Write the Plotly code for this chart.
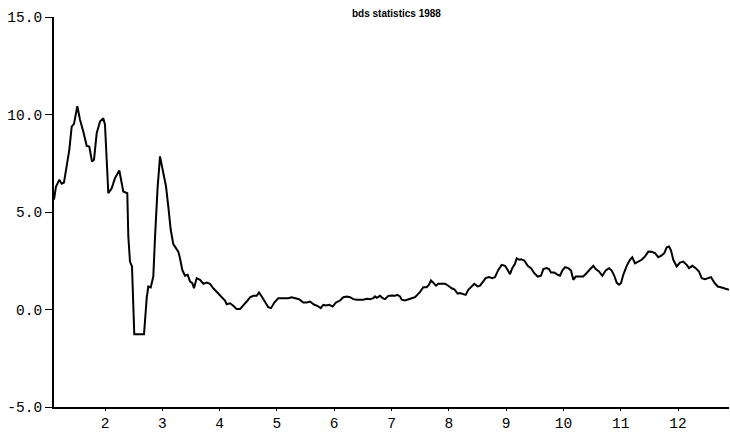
import plotly.graph_objects as go

# BDS statistic traced over 1988, x in months
months = [
    1.110, 1.145, 1.202, 1.244, 1.284, 1.332, 1.377, 1.419, 1.459, 1.517,
    1.564, 1.621, 1.681, 1.726, 1.773, 1.808, 1.855, 1.913, 1.970, 2.000,
    2.030, 2.058, 2.117, 2.174, 2.250, 2.291, 2.319, 2.389, 2.407, 2.436,
    2.471, 2.511, 2.681, 2.728, 2.756, 2.798, 2.843, 2.873, 2.917, 2.960,
    3.017, 3.065, 3.105, 3.147, 3.192, 3.223, 3.279, 3.309, 3.349, 3.396,
    3.443, 3.483, 3.524, 3.553, 3.600, 3.658, 3.716, 3.775, 3.832, 3.890,
    3.977, 4.037, 4.094, 4.124, 4.181, 4.239, 4.298, 4.356, 4.414, 4.473,
    4.531, 4.588, 4.648, 4.688, 4.735, 4.792, 4.850, 4.897, 4.955, 5.024,
    5.084, 5.141, 5.199, 5.258, 5.316, 5.386, 5.461, 5.520, 5.578, 5.653,
    5.705, 5.764, 5.810, 5.857, 5.914, 5.974, 6.031, 6.101, 6.159, 6.218,
    6.276, 6.333, 6.393, 6.450, 6.508, 6.567, 6.625, 6.682, 6.712, 6.742,
    6.799, 6.846, 6.887, 6.944, 7.003, 7.061, 7.101, 7.148, 7.178, 7.236,
    7.293, 7.353, 7.410, 7.450, 7.497, 7.555, 7.614, 7.654, 7.689, 7.729,
    7.777, 7.817, 7.876, 7.934, 7.991, 8.051, 8.096, 8.155, 8.195, 8.253,
    8.295, 8.340, 8.400, 8.445, 8.504, 8.545, 8.585, 8.644, 8.702, 8.759,
    8.806, 8.864, 8.923, 8.981, 9.028, 9.068, 9.108, 9.155, 9.185, 9.225,
    9.260, 9.318, 9.377, 9.435, 9.492, 9.551, 9.609, 9.649, 9.708, 9.749,
    9.784, 9.841, 9.901, 9.941, 9.981, 10.028, 10.086, 10.133, 10.173, 10.215,
    10.272, 10.347, 10.377, 10.435, 10.482, 10.522, 10.564, 10.621, 10.679, 10.738,
    10.796, 10.843, 10.888, 10.930, 10.970, 11.005, 11.045, 11.105, 11.162, 11.202,
    11.250, 11.307, 11.366, 11.424, 11.482, 11.541, 11.599, 11.656, 11.703, 11.761,
    11.803, 11.843, 11.878, 11.918, 11.977, 12.035, 12.092, 12.152, 12.192, 12.250,
    12.309, 12.366, 12.414, 12.471, 12.529, 12.576, 12.634, 12.693, 12.763, 12.820,
    12.890,
]

bds = [
    5.63, 6.31, 6.65, 6.45, 6.51, 7.33, 8.19, 9.38, 9.52, 10.42,
    9.73, 9.13, 8.39, 8.36, 7.59, 7.68, 9.04, 9.64, 9.81, 9.47,
    7.16, 5.96, 6.22, 6.73, 7.13, 6.56, 6.05, 5.96, 3.74, 2.46,
    2.21, -1.27, -1.27, 0.60, 1.18, 1.13, 1.69, 3.70, 6.20, 7.85,
    6.91, 6.31, 5.28, 4.09, 3.35, 3.23, 2.97, 2.63, 2.03, 1.73,
    1.78, 1.44, 1.35, 1.09, 1.61, 1.52, 1.32, 1.38, 1.32, 1.09,
    0.84, 0.67, 0.46, 0.27, 0.32, 0.19, 0.02, 0.02, 0.19, 0.41,
    0.62, 0.70, 0.70, 0.87, 0.67, 0.36, 0.12, 0.07, 0.36, 0.58,
    0.58, 0.55, 0.58, 0.63, 0.58, 0.53, 0.36, 0.36, 0.41, 0.24,
    0.19, 0.07, 0.24, 0.21, 0.24, 0.15, 0.36, 0.46, 0.63, 0.67,
    0.63, 0.53, 0.50, 0.50, 0.50, 0.55, 0.53, 0.58, 0.67, 0.60,
    0.70, 0.58, 0.53, 0.70, 0.72, 0.70, 0.75, 0.67, 0.50, 0.46,
    0.50, 0.58, 0.63, 0.75, 0.89, 1.14, 1.14, 1.27, 1.49, 1.38,
    1.22, 1.32, 1.32, 1.32, 1.22, 1.09, 1.04, 0.81, 0.84, 0.81,
    0.75, 1.01, 1.18, 1.32, 1.18, 1.22, 1.38, 1.61, 1.66, 1.61,
    1.66, 2.03, 2.29, 2.24, 2.03, 1.81, 2.12, 2.34, 2.63, 2.55,
    2.58, 2.51, 2.24, 2.12, 1.86, 1.69, 1.73, 2.07, 2.12, 2.07,
    1.90, 1.90, 1.78, 1.73, 2.00, 2.17, 2.12, 2.00, 1.52, 1.69,
    1.69, 1.69, 1.78, 1.95, 2.12, 2.24, 2.07, 1.95, 1.73, 2.00,
    2.12, 2.00, 1.73, 1.38, 1.27, 1.35, 1.78, 2.24, 2.55, 2.68,
    2.37, 2.46, 2.55, 2.72, 2.97, 2.96, 2.89, 2.68, 2.75, 2.89,
    3.19, 3.23, 3.03, 2.55, 2.21, 2.41, 2.46, 2.29, 2.12, 2.24,
    2.12, 1.95, 1.61, 1.55, 1.61, 1.66, 1.38, 1.18, 1.13, 1.09,
    1.01,
]

x_ticks = [2, 3, 4, 5, 6, 7, 8, 9, 10, 11, 12]
y_ticks = [-5, 0, 5, 10, 15]
y_tick_labels = ["-5.0", "0.0", "5.0", "10.0", "15.0"]

fig = go.Figure(
    go.Scatter(
        x=months,
        y=bds,
        mode="lines",
        line=dict(color="black", width=2),
        hoverinfo="skip",
    )
)

label_font = dict(family="Liberation Mono, Courier New, monospace", size=14.5, color="black")

fig.update_layout(
    width=730,
    height=435,
    margin=dict(l=54, r=1, t=17, b=28),
    paper_bgcolor="white",
    plot_bgcolor="white",
    showlegend=False,
    xaxis=dict(
        range=[1.11, 12.89],
        tickmode="array",
        tickvals=x_ticks,
        ticktext=[str(v) for v in x_ticks],
        ticks="outside",
        ticklen=2,
        tickwidth=1,
        tickcolor="black",
        showline=True,
        linecolor="black",
        linewidth=2,
        showgrid=False,
        zeroline=False,
        tickfont=label_font,
    ),
    yaxis=dict(
        range=[-5, 15],
        tickmode="array",
        tickvals=y_ticks,
        ticktext=y_tick_labels,
        ticks="outside",
        ticklen=7,
        tickwidth=1,
        tickcolor="black",
        showline=True,
        linecolor="black",
        linewidth=2,
        showgrid=False,
        zeroline=False,
        tickfont=label_font,
    ),
    annotations=[
        dict(
            text="<b>bds statistics 1988</b>",
            xref="paper",
            yref="paper",
            x=0.507,
            y=1.008,
            xanchor="center",
            yanchor="middle",
            showarrow=False,
            font=dict(family="Liberation Sans, Arial, sans-serif", size=10, color="black"),
        )
    ],
)

fig.write_html("out.html")
